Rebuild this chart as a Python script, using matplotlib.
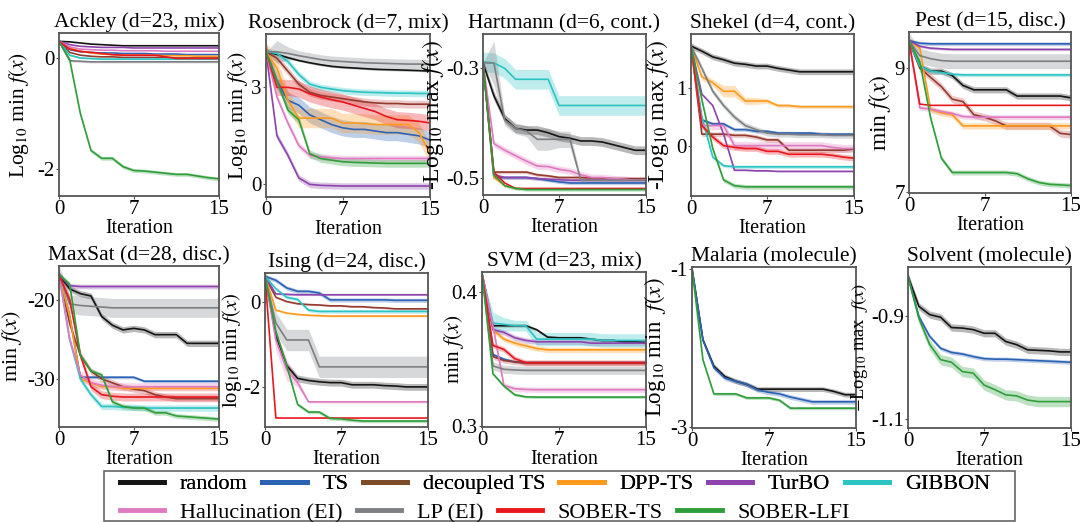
import numpy as np
import matplotlib
matplotlib.use('Agg')
import matplotlib.pyplot as plt
from matplotlib.lines import Line2D
from matplotlib.patches import Rectangle

plt.rcParams['font.family'] = 'serif'
plt.rcParams['font.serif'] = ['Liberation Serif', 'DejaVu Serif']
plt.rcParams['mathtext.fontset'] = 'stix'
plt.rcParams['axes.unicode_minus'] = False

iters = np.arange(16)

methods = ['random', 'TS', 'decoupled TS', 'DPP-TS', 'TurBO', 'GIBBON',
           'Hallucination (EI)', 'LP (EI)', 'SOBER-TS', 'SOBER-LFI']
colors = {'random': '#151515', 'TS': '#2c62b4', 'decoupled TS': '#7b4b2a',
          'DPP-TS': '#ff9a1f', 'TurBO': '#8e44ad', 'GIBBON': '#2cc3c3',
          'Hallucination (EI)': '#df7ac0', 'LP (EI)': '#7d7f82',
          'SOBER-TS': '#e8171e', 'SOBER-LFI': '#2e9e3a'}
# lines of decoupled TS look dark red in the plots
line_colors = dict(colors)
line_colors['decoupled TS'] = '#943a2e'
band_colors = dict(colors)
band_colors['decoupled TS'] = '#c0504d'

# ---- values (mean, band half-width) ----
ackley = {
    'random': [0.30, 0.29, 0.27, 0.25, 0.24, 0.23, 0.22, 0.22, 0.22, 0.22, 0.22, 0.22, 0.22, 0.22, 0.22, 0.22],
    'TS': [0.30, 0.15, 0.11, 0.10, 0.09, 0.09, 0.08, 0.08, 0.08, 0.07, 0.07, 0.07, 0.06, 0.06, 0.06, 0.06],
    'decoupled TS': [0.30, 0.10, 0.05, 0.03, 0.02, 0.02, 0.01, 0.01, 0.01, 0.01, 0.01, 0.0, 0.0, 0.0, 0.0, 0.0],
    'DPP-TS': [0.30, 0.18, 0.12, 0.09, 0.07, 0.06, 0.05, 0.05, 0.05, 0.05, 0.04, 0.04, 0.04, 0.03, 0.03, 0.03],
    'TurBO': [0.30, 0.24, 0.21, 0.20, 0.19, 0.19, 0.19, 0.18, 0.18, 0.18, 0.18, 0.18, 0.18, 0.18, 0.18, 0.18],
    'GIBBON': [0.30, 0.05, 0.0, -0.01, -0.02, -0.02, -0.02, -0.02, -0.02, -0.02, -0.02, -0.02, -0.02, -0.02, -0.02, -0.02],
    'Hallucination (EI)': [0.30, 0.20, 0.16, 0.15, 0.14, 0.14, 0.13, 0.13, 0.13, 0.13, 0.12, 0.12, 0.12, 0.12, 0.12, 0.12],
    'LP (EI)': [0.30, -0.05, -0.06, -0.07, -0.07, -0.07, -0.07, -0.07, -0.07, -0.07, -0.07, -0.07, -0.07, -0.07, -0.07, -0.07],
    'SOBER-TS': [0.30, 0.16, 0.12, 0.10, 0.08, 0.06, 0.05, 0.05, 0.05, 0.05, 0.02, -0.01, -0.01, -0.01, -0.01, -0.01],
    'SOBER-LFI': [0.30, -0.03, -1.0, -1.67, -1.81, -1.81, -1.96, -2.03, -2.04, -2.06, -2.08, -2.1, -2.1, -2.13, -2.16, -2.18],
}
ackley_err = {'SOBER-LFI': 0.035, 'LP (EI)': 0.02, 'GIBBON': 0.015}

rosenbrock = {
    'random': [4.1, 4.02, 3.92, 3.83, 3.76, 3.70, 3.65, 3.62, 3.60, 3.58, 3.56, 3.55, 3.54, 3.53, 3.52, 3.50],
    'TS': [4.1, 3.2, 2.6, 2.45, 2.15, 2.0, 1.85, 1.75, 1.7, 1.7, 1.65, 1.6, 1.6, 1.55, 1.5, 1.37],
    'decoupled TS': [4.1, 3.9, 3.5, 3.1, 2.85, 2.75, 2.7, 2.65, 2.6, 2.55, 2.52, 2.5, 2.5, 2.48, 2.48, 2.48],
    'DPP-TS': [4.1, 3.6, 2.6, 2.05, 2.05, 2.05, 2.05, 1.9, 1.9, 1.88, 1.85, 1.85, 1.85, 1.85, 1.6, 0.95],
    'TurBO': [4.1, 1.5, 0.9, 0.2, 0.0, -0.03, -0.04, -0.05, -0.05, -0.05, -0.05, -0.05, -0.05, -0.05, -0.05, -0.05],
    'GIBBON': [4.1, 4.05, 3.8, 3.4, 3.1, 3.0, 2.95, 2.9, 2.87, 2.85, 2.84, 2.83, 2.82, 2.82, 2.81, 2.81],
    'Hallucination (EI)': [4.1, 2.7, 1.9, 1.2, 0.9, 0.85, 0.82, 0.8, 0.8, 0.8, 0.8, 0.8, 0.8, 0.8, 0.8, 0.8],
    'LP (EI)': [4.1, 4.1, 4.05, 3.98, 3.92, 3.86, 3.82, 3.8, 3.78, 3.76, 3.75, 3.74, 3.73, 3.72, 3.72, 3.71],
    'SOBER-TS': [4.1, 3.0, 3.0, 2.95, 2.8, 2.7, 2.62, 2.55, 2.45, 2.35, 2.25, 2.1, 2.0, 1.98, 1.95, 1.9],
    'SOBER-LFI': [4.1, 3.2, 2.3, 2.0, 0.95, 0.8, 0.75, 0.7, 0.68, 0.67, 0.66, 0.65, 0.65, 0.65, 0.65, 0.65],
}
rosenbrock_err = {'random': 0.03, 'TS': 0.25, 'decoupled TS': 0.12, 'DPP-TS': 0.3, 'TurBO': 0.1,
                  'GIBBON': 0.1, 'Hallucination (EI)': 0.1, 'SOBER-TS': 0.25, 'SOBER-LFI': 0.12,
                  'LP (EI)': [0, 0.35, 0.2, 0.15, 0.15, 0.15, 0.15, 0.15, 0.15, 0.15, 0.15, 0.15, 0.15, 0.15, 0.15, 0.15]}

hartmann = {
    'random': [-0.29, -0.35, -0.392, -0.41, -0.413, -0.413, -0.418, -0.425, -0.428, -0.433, -0.433, -0.435, -0.44, -0.445, -0.45, -0.45],
    'TS': [-0.29, -0.5, -0.5, -0.5, -0.5, -0.502, -0.505, -0.508, -0.51, -0.51, -0.51, -0.51, -0.51, -0.51, -0.51, -0.51],
    'decoupled TS': [-0.29, -0.49, -0.49, -0.49, -0.49, -0.495, -0.497, -0.5, -0.5, -0.5, -0.501, -0.501, -0.502, -0.502, -0.502, -0.502],
    'DPP-TS': [-0.29, -0.5, -0.515, -0.52, -0.521, -0.521, -0.521, -0.521, -0.521, -0.521, -0.521, -0.521, -0.521, -0.521, -0.521, -0.521],
    'TurBO': [-0.29, -0.495, -0.5, -0.5, -0.5, -0.502, -0.503, -0.504, -0.505, -0.505, -0.505, -0.505, -0.505, -0.505, -0.505, -0.505],
    'GIBBON': [-0.288, -0.29, -0.3, -0.32, -0.32, -0.32, -0.32, -0.368, -0.368, -0.368, -0.368, -0.368, -0.368, -0.368, -0.368, -0.368],
    'Hallucination (EI)': [-0.29, -0.438, -0.45, -0.46, -0.47, -0.479, -0.48, -0.485, -0.488, -0.495, -0.5, -0.5, -0.502, -0.503, -0.505, -0.505],
    'LP (EI)': [-0.29, -0.29, -0.395, -0.41, -0.415, -0.43, -0.43, -0.43, -0.43, -0.505, -0.505, -0.505, -0.505, -0.505, -0.505, -0.505],
    'SOBER-TS': [-0.29, -0.49, -0.51, -0.52, -0.52, -0.52, -0.52, -0.52, -0.52, -0.52, -0.52, -0.52, -0.52, -0.52, -0.52, -0.52],
    'SOBER-LFI': [-0.29, -0.495, -0.515, -0.52, -0.522, -0.522, -0.522, -0.522, -0.522, -0.522, -0.522, -0.522, -0.522, -0.522, -0.522, -0.522],
}
hartmann_err = {'random': 0.008, 'GIBBON': 0.018, 'Hallucination (EI)': 0.006, 'TurBO': 0.003,
                'decoupled TS': 0.003, 'TS': 0.003, 'SOBER-LFI': 0.003,
                'LP (EI)': [0, 0.04, 0.01, 0.01, 0.01, 0.02, 0.02, 0.015, 0.015, 0.004, 0.004, 0.004, 0.004, 0.004, 0.004, 0.004]}

shekel = {
    'random': [1.74, 1.65, 1.55, 1.5, 1.44, 1.42, 1.39, 1.39, 1.35, 1.32, 1.29, 1.29, 1.29, 1.29, 1.29, 1.29],
    'TS': [1.74, 0.45, 0.38, 0.38, 0.28, 0.28, 0.25, 0.25, 0.22, 0.22, 0.22, 0.22, 0.2, 0.2, 0.2, 0.2],
    'decoupled TS': [1.74, 0.2, 0.2, 0.2, 0.18, 0.18, 0.15, 0.1, 0.1, -0.08, -0.08, -0.08, -0.08, -0.08, -0.08, -0.06],
    'DPP-TS': [1.74, 1.2, 1.1, 0.95, 0.95, 0.78, 0.78, 0.78, 0.7, 0.7, 0.68, 0.68, 0.68, 0.68, 0.68, 0.68],
    'TurBO': [1.74, 0.9, 0.7, 0.2, -0.43, -0.43, -0.44, -0.44, -0.45, -0.45, -0.45, -0.45, -0.45, -0.45, -0.45, -0.45],
    'GIBBON': [1.74, 0.5, -0.2, -0.35, -0.37, -0.37, -0.37, -0.37, -0.37, -0.37, -0.37, -0.37, -0.37, -0.37, -0.37, -0.37],
    'Hallucination (EI)': [1.74, 0.35, 0.35, 0.35, 0.0, 0.0, 0.0, 0.0, 0.0, 0.0, 0.0, 0.0, 0.0, -0.03, -0.05, -0.05],
    'LP (EI)': [1.74, 1.35, 0.95, 0.7, 0.5, 0.35, 0.28, 0.22, 0.2, 0.2, 0.19, 0.19, 0.19, 0.18, 0.18, 0.18],
    'SOBER-TS': [1.74, 0.35, 0.15, 0.0, -0.03, -0.05, -0.05, -0.1, -0.1, -0.15, -0.15, -0.15, -0.15, -0.17, -0.2, -0.22],
    'SOBER-LFI': [1.74, 0.8, -0.05, -0.6, -0.7, -0.72, -0.72, -0.72, -0.72, -0.72, -0.72, -0.72, -0.72, -0.72, -0.72, -0.72],
}
shekel_err = {'random': 0.05, 'TS': 0.03, 'decoupled TS': 0.04, 'TurBO': 0.01, 'GIBBON': 0.03,
              'Hallucination (EI)': 0.07, 'LP (EI)': 0.05, 'SOBER-TS': 0.05, 'SOBER-LFI': 0.04,
              'DPP-TS': [0, 0.06, 0.06, 0.1, 0.1, 0.06, 0.06, 0.04, 0.03, 0.03, 0.03, 0.03, 0.03, 0.03, 0.03, 0.03]}

pest = {
    'random': [9.44, 9.03, 8.95, 8.95, 8.88, 8.72, 8.65, 8.65, 8.65, 8.65, 8.55, 8.55, 8.55, 8.55, 8.55, 8.52],
    'TS': [9.44, 9.4, 9.39, 9.39, 9.39, 9.39, 9.39, 9.39, 9.39, 9.39, 9.39, 9.39, 9.39, 9.39, 9.39, 9.39],
    'decoupled TS': [9.44, 9.0, 8.85, 8.7, 8.5, 8.46, 8.25, 8.21, 8.15, 8.07, 8.07, 8.07, 8.07, 8.07, 7.95, 7.93],
    'DPP-TS': [9.44, 9.32, 8.33, 8.28, 8.25, 8.07, 8.07, 8.07, 8.07, 8.07, 8.07, 8.07, 8.07, 8.07, 8.07, 8.07],
    'TurBO': [9.44, 9.35, 9.32, 9.31, 9.3, 9.3, 9.3, 9.3, 9.3, 9.3, 9.3, 9.3, 9.3, 9.3, 9.3, 9.3],
    'GIBBON': [9.44, 9.03, 8.95, 8.93, 8.9, 8.89, 8.89, 8.89, 8.89, 8.89, 8.89, 8.89, 8.89, 8.89, 8.89, 8.89],
    'Hallucination (EI)': [9.44, 8.36, 8.34, 8.3, 8.27, 8.22, 8.21, 8.21, 8.21, 8.21, 8.21, 8.21, 8.21, 8.21, 8.21, 8.21],
    'LP (EI)': [9.44, 9.2, 9.15, 9.12, 9.11, 9.11, 9.11, 9.11, 9.11, 9.11, 9.11, 9.11, 9.11, 9.11, 9.11, 9.11],
    'SOBER-TS': [9.44, 8.42, 8.4, 8.4, 8.4, 8.4, 8.4, 8.4, 8.4, 8.4, 8.4, 8.4, 8.4, 8.4, 8.4, 8.4],
    'SOBER-LFI': [9.44, 9.1, 8.2, 7.55, 7.32, 7.32, 7.32, 7.32, 7.32, 7.32, 7.3, 7.22, 7.16, 7.13, 7.12, 7.11],
}
pest_err = {'random': 0.05, 'TS': 0.03, 'decoupled TS': 0.06, 'DPP-TS': 0.05, 'TurBO': 0.02,
            'GIBBON': 0.03, 'Hallucination (EI)': 0.04, 'LP (EI)': 0.12, 'SOBER-LFI': 0.04}

maxsat = {
    'random': [-16.8, -18.6, -19.2, -19.5, -22.1, -23.2, -23.8, -23.6, -23.8, -24.4, -24.4, -24.4, -25.5, -25.5, -25.5, -25.5],
    'TS': [-16.8, -22, -29.8, -29.8, -29.8, -29.8, -29.8, -29.8, -30.3, -30.3, -30.3, -30.3, -30.3, -30.3, -30.3, -30.3],
    'decoupled TS': [-16.8, -23, -27, -29, -30, -30.5, -31, -31.3, -31.5, -32, -32.3, -32.5, -32.5, -32.5, -32.5, -32.5],
    'DPP-TS': [-16.8, -22, -30, -30.5, -31, -31, -31.2, -31.2, -31.2, -31.2, -31.2, -31.2, -31.2, -31.2, -31.2, -31.2],
    'TurBO': [-16.8, -18.2, -18.3, -18.3, -18.3, -18.3, -18.3, -18.3, -18.3, -18.3, -18.3, -18.3, -18.3, -18.3, -18.3, -18.3],
    'GIBBON': [-16.8, -25, -30, -32, -33.5, -33.5, -33.6, -33.6, -33.7, -33.7, -33.7, -33.7, -33.7, -33.7, -33.7, -33.7],
    'Hallucination (EI)': [-16.8, -25, -29.5, -30.5, -30.8, -31, -31, -31, -31, -31, -31, -31, -31, -31, -31, -31],
    'LP (EI)': [-16.8, -20.5, -20.7, -20.8, -20.9, -21, -21, -21, -21, -21, -21, -21, -21, -21, -21, -21],
    'SOBER-TS': [-16.8, -20, -27, -31, -32, -32.2, -32.3, -32.3, -32.3, -32.3, -32.3, -32.3, -32.3, -32.3, -32.3, -32.3],
    'SOBER-LFI': [-16.8, -18, -27, -29, -29.5, -32.9, -33.5, -33.7, -33.7, -34.3, -34.3, -34.7, -34.8, -34.9, -35, -35.1],
}
maxsat_err = {'random': 0.4, 'TS': 0.2, 'decoupled TS': 0.4, 'DPP-TS': 0.3, 'TurBO': 0.3, 'GIBBON': 0.4,
              'Hallucination (EI)': 0.5, 'LP (EI)': 1.2, 'SOBER-TS': 0.5, 'SOBER-LFI': 0.3}

ising = {
    'random': [0.59, -0.8, -1.5, -1.8, -1.85, -1.88, -1.9, -1.9, -1.95, -1.95, -1.95, -1.97, -1.98, -2.0, -2.0, -2.0],
    'TS': [0.59, 0.5, 0.32, 0.24, 0.24, 0.2, 0.04, 0.04, 0.04, 0.04, 0.04, 0.04, 0.03, 0.03, 0.03, 0.03],
    'decoupled TS': [0.59, 0.1, 0.0, -0.05, -0.07, -0.08, -0.1, -0.1, -0.12, -0.12, -0.14, -0.15, -0.17, -0.17, -0.17, -0.17],
    'DPP-TS': [0.59, -0.2, -0.27, -0.3, -0.32, -0.33, -0.34, -0.34, -0.34, -0.34, -0.34, -0.34, -0.34, -0.34, -0.34, -0.34],
    'TurBO': [0.59, 0.18, 0.17, 0.16, 0.16, 0.16, 0.16, 0.16, 0.16, 0.16, 0.16, 0.16, 0.16, 0.16, 0.16, 0.16],
    'GIBBON': [0.59, 0.3, 0.1, 0.05, -0.2, -0.23, -0.23, -0.23, -0.23, -0.23, -0.23, -0.23, -0.23, -0.23, -0.23, -0.23],
    'Hallucination (EI)': [0.59, -0.9, -1.6, -1.9, -2.35, -2.35, -2.35, -2.35, -2.35, -2.35, -2.35, -2.35, -2.35, -2.35, -2.35, -2.35],
    'LP (EI)': [0.59, -0.5, -0.9, -0.9, -0.9, -1.53, -1.53, -1.53, -1.53, -1.53, -1.53, -1.53, -1.53, -1.53, -1.53, -1.53],
    'SOBER-TS': [0.59, -2.73, -2.73, -2.73, -2.73, -2.73, -2.73, -2.73, -2.73, -2.73, -2.73, -2.73, -2.73, -2.73, -2.73, -2.73],
    'SOBER-LFI': [0.59, -0.7, -1.5, -2.41, -2.59, -2.59, -2.74, -2.75, -2.78, -2.8, -2.8, -2.8, -2.8, -2.8, -2.8, -2.8],
}
ising_err = {'random': 0.08, 'TS': 0.05, 'decoupled TS': 0.02, 'DPP-TS': 0.02, 'TurBO': 0.02,
             'GIBBON': 0.04, 'LP (EI)': 0.25, 'SOBER-LFI': 0.04,
             'Hallucination (EI)': [0, 0.25, 0.25, 0.1, 0.03, 0.03, 0.03, 0.03, 0.03, 0.03, 0.03, 0.03, 0.03, 0.03, 0.03, 0.03]}

svm = {
    'random': [0.4137, 0.375, 0.375, 0.375, 0.375, 0.372, 0.3665, 0.366, 0.366, 0.366, 0.365, 0.364, 0.364, 0.363, 0.363, 0.3625],
    'TS': [0.4137, 0.3536, 0.35, 0.348, 0.3475, 0.3475, 0.3475, 0.3475, 0.3475, 0.3475, 0.3475, 0.3475, 0.3475, 0.3475, 0.3475, 0.3475],
    'decoupled TS': [0.4137, 0.352, 0.349, 0.348, 0.347, 0.347, 0.347, 0.347, 0.347, 0.347, 0.347, 0.347, 0.347, 0.347, 0.347, 0.347],
    'DPP-TS': [0.4137, 0.372, 0.365, 0.362, 0.36, 0.358, 0.357, 0.357, 0.357, 0.357, 0.357, 0.357, 0.357, 0.357, 0.357, 0.357],
    'TurBO': [0.4137, 0.372, 0.37, 0.366, 0.364, 0.363, 0.363, 0.363, 0.363, 0.363, 0.362, 0.362, 0.362, 0.362, 0.362, 0.362],
    'GIBBON': [0.4137, 0.377, 0.376, 0.375, 0.375, 0.365, 0.365, 0.365, 0.365, 0.365, 0.365, 0.364, 0.364, 0.364, 0.364, 0.364],
    'Hallucination (EI)': [0.4137, 0.375, 0.3305, 0.328, 0.3275, 0.3273, 0.3273, 0.3273, 0.3273, 0.3273, 0.3273, 0.3273, 0.3273, 0.3273, 0.3273, 0.3273],
    'LP (EI)': [0.4137, 0.345, 0.3425, 0.342, 0.3417, 0.3417, 0.3417, 0.3417, 0.3417, 0.3417, 0.3417, 0.3417, 0.3417, 0.3417, 0.3417, 0.3417],
    'SOBER-TS': [0.4137, 0.3603, 0.3573, 0.3504, 0.3475, 0.3475, 0.3475, 0.3475, 0.3475, 0.3475, 0.3475, 0.3475, 0.3475, 0.3475, 0.3475, 0.3475],
    'SOBER-LFI': [0.4137, 0.3392, 0.33, 0.3235, 0.322, 0.3218, 0.3218, 0.3218, 0.3218, 0.3218, 0.3218, 0.3218, 0.3218, 0.3218, 0.3218, 0.3218],
}
svm_err = {'random': 0.001, 'TS': 0.001, 'decoupled TS': 0.002, 'DPP-TS': 0.002, 'TurBO': 0.002,
           'Hallucination (EI)': 0.002, 'LP (EI)': 0.003, 'SOBER-TS': 0.002, 'SOBER-LFI': 0.001,
           'GIBBON': [0, 0.008, 0.005, 0.004, 0.004, 0.005, 0.005, 0.005, 0.005, 0.005, 0.005, 0.005, 0.005, 0.005, 0.005, 0.005]}

malaria = {
    'random': [-1.0, -1.9, -2.23, -2.36, -2.42, -2.46, -2.52, -2.52, -2.52, -2.52, -2.52, -2.52, -2.52, -2.55, -2.59, -2.59],
    'TS': [-1.0, -1.9, -2.25, -2.38, -2.42, -2.46, -2.53, -2.56, -2.58, -2.62, -2.65, -2.68, -2.68, -2.68, -2.68, -2.68],
    'SOBER-LFI': [-1.0, -2.15, -2.58, -2.58, -2.58, -2.63, -2.63, -2.63, -2.66, -2.76, -2.76, -2.76, -2.76, -2.76, -2.76, -2.76],
}
malaria_err = {'random': 0.03, 'TS': 0.03, 'SOBER-LFI': 0.02}

solvent = {
    'random': [-0.824, -0.882, -0.898, -0.903, -0.923, -0.924, -0.927, -0.934, -0.934, -0.95, -0.956, -0.966, -0.967, -0.968, -0.97, -0.97],
    'TS': [-0.824, -0.902, -0.94, -0.963, -0.971, -0.974, -0.979, -0.983, -0.984, -0.984, -0.985, -0.986, -0.987, -0.988, -0.989, -0.99],
    'SOBER-LFI': [-0.824, -0.905, -0.956, -0.985, -0.99, -1.008, -1.011, -1.034, -1.043, -1.053, -1.055, -1.063, -1.066, -1.066, -1.066, -1.066],
}
solvent_err = {'random': 0.007, 'TS': 0.004, 'SOBER-LFI': 0.01}

# panel settings: data, err, title, ylabel, (ylabel size, labelpad), ylim, yticks, box (left, top, right, bottom) px
panels = [
    (ackley, ackley_err, 'Ackley (d=23, mix)', r'Log$_{10}$ min $f(x)$', (15.5, 5), (-2.49, 0.45), [-2, 0], (59, 33, 219, 196)),
    (rosenbrock, rosenbrock_err, 'Rosenbrock (d=7, mix)', r'Log$_{10}$ min $f(x)$', (15.8, 1), (-0.39, 4.65), [0, 3], (266, 34, 430, 197)),
    (hartmann, hartmann_err, 'Hartmann (d=6, cont.)', r'-Log$_{10}$ max $f(x)$', (17, 0), (-0.532, -0.237), [-0.5, -0.3], (483, 34, 646, 195)),
    (shekel, shekel_err, 'Shekel (d=4, cont.)', r'-Log$_{10}$ max $f(x)$', (17, 4), (-0.88, 1.95), [0, 1], (691, 34, 854, 196)),
    (pest, pest_err, 'Pest (d=15, disc.)', r'min $f(x)$', (17, 1), (6.99, 9.58), [7, 9], (909, 32, 1071, 193)),
    (maxsat, maxsat_err, 'MaxSat (d=28, disc.)', r'min $f(x)$', (16, 2), (-36.1, -15.7), [-30, -20], (59, 266, 219, 427)),
    (ising, ising_err, 'Ising (d=24, disc.)', r'log$_{10}$ min $f(x)$', (15, 0), (-2.94, 0.67), [-2, 0], (265, 273, 428, 427)),
    (svm, svm_err, 'SVM (d=23, mix)', r'min $f(x)$', (15.5, -10), (0.2995, 0.415), [0.3, 0.4], (482, 272, 646, 427)),
    (malaria, malaria_err, 'Malaria (molecule)', r'Log$_{10}$ min  $f(x)$', (16.5, 2), (-3.01, -0.98), [-3, -1], (692, 267, 856, 428)),
    (solvent, solvent_err, 'Solvent (molecule)', r'$-$Log$_{10}$ max  $f(x)$', (13.3, 1), (-1.117, -0.806), [-1.1, -0.9], (908, 267, 1071, 428)),
]

W, H = 1080, 522
fig = plt.figure(figsize=(W / 100, H / 100), dpi=100)

for data, err, title, ylab, (ylab_size, ylab_pad), ylim, yticks, box in panels:
    l, t, r, b = box
    ax = fig.add_axes([l / W, 1 - b / H, (r - l) / W, (b - t) / H])
    for m in methods:
        if m not in data:
            continue
        y = np.array(data[m])
        e = np.broadcast_to(np.array(err.get(m, 0.0), dtype=float), y.shape)
        if e.max() > 0:
            ax.fill_between(iters, y - e, y + e, color=band_colors[m], alpha=0.3, lw=0)
        ax.plot(iters, y, color=line_colors[m], lw=1.2)
    ax.set_xlim(0, 15)
    ax.set_ylim(*ylim)
    ax.set_xticks([0, 7, 15])
    ax.set_yticks(yticks)
    ax.set_yticklabels([('%g' % v) for v in yticks])
    ax.tick_params(labelsize=15, pad=1, length=2, color='#555555')
    for s in ax.spines.values():
        s.set_color('#555555')
        s.set_linewidth(1.3)
    ax.set_title(title, fontsize=15.5, pad=4)
    ax.set_xlabel('Iteration', fontsize=14.5, labelpad=0)
    ax.set_ylabel(ylab, fontsize=ylab_size, labelpad=ylab_pad)

# legend: two rows inside one frame
handles = [Line2D([], [], color=colors[m], lw=3.5) for m in methods]
kw = dict(frameon=False, fontsize=16, handlelength=2.0, handletextpad=0.7,
          columnspacing=0.65, borderpad=0, borderaxespad=0, loc='center left')
leg1 = fig.legend(handles[:6], methods[:6], ncol=6, bbox_to_anchor=(120 / W, 1 - 484 / H), **kw)
fig.add_artist(leg1)
fig.legend(handles[6:], methods[6:], ncol=4, bbox_to_anchor=(120 / W, 1 - 513 / H), **kw)
fig.add_artist(Rectangle((104 / W, 1 / H), (1015 - 104) / W, (521 - 471) / H,
                         transform=fig.transFigure, fill=False, edgecolor='#666666', lw=1.2))

fig.savefig('out.png', dpi=100)
